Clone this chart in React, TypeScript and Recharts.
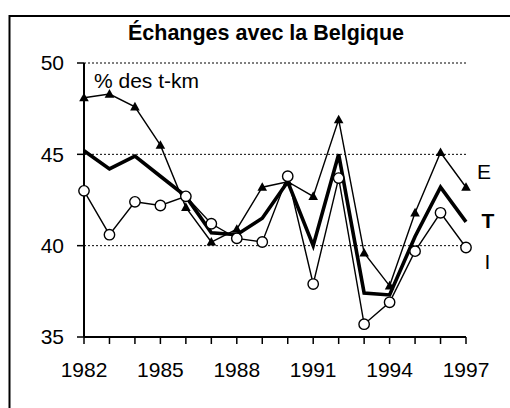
import React from "react";
import { LineChart, Line, XAxis, YAxis, CartesianGrid, LabelList } from "recharts";

const years = [1982, 1983, 1984, 1985, 1986, 1987, 1988, 1989, 1990, 1991, 1992, 1993, 1994, 1995, 1996, 1997];
const labelledYears = [1982, 1985, 1988, 1991, 1994, 1997];
const seriesE = [48.1, 48.3, 47.6, 45.5, 42.1, 40.2, 40.9, 43.2, 43.5, 42.7, 46.9, 39.6, 37.8, 41.8, 45.1, 43.2];
const seriesT = [45.2, 44.2, 44.9, 43.8, 42.7, 40.7, 40.6, 41.5, 43.5, 40.0, 45.0, 37.4, 37.3, 40.5, 43.2, 41.3];
const seriesI = [43.0, 40.6, 42.4, 42.2, 42.7, 41.2, 40.4, 40.2, 43.8, 37.9, 43.7, 35.7, 36.9, 39.7, 41.8, 39.9];
const yTicks = [35, 40, 45, 50];
const title = "Échanges avec la Belgique";
const unitLabel = "% des t-km";

const data = years.map((y, i) => ({ year: y, E: seriesE[i], T: seriesT[i], I: seriesI[i] }));

const FONT = "Arial, 'Liberation Sans', sans-serif";
const FS = 21;

const Triangle = (props: any) => {
  const { cx, cy } = props;
  if (cx == null || cy == null) return null;
  return <polygon points={`${cx - 4.8},${cy + 3.6} ${cx + 4.8},${cy + 3.6} ${cx},${cy - 5}`} fill="#000" stroke="none" />;
};

const Circle = (props: any) => {
  const { cx, cy } = props;
  if (cx == null || cy == null) return null;
  return <circle cx={cx} cy={cy} r={5.2} fill="#fff" stroke="#000" strokeWidth={1.4} />;
};

const endLabel = (text: string, dx: number, dy: number, bold: boolean) => (props: any) => {
  const { x, y, index } = props;
  if (index !== years.length - 1) return null;
  return (
    <text x={x + dx} y={y + dy} textAnchor="middle" dominantBaseline="central" fontFamily={FONT} fontSize={FS} fontWeight={bold ? "bold" : "normal"} fill="#000">
      {text}
    </text>
  );
};

export default function App() {
  return (
    <div style={{ position: "absolute", left: 0, top: 0, width: 510, height: 408, overflow: "hidden", background: "#fff" }}>
      <svg width={510} height={408} style={{ position: "absolute", left: 0, top: 0 }}>
        <rect x={9.5} y={16} width={600} height={500} fill="#fff" stroke="#000" strokeWidth={2} />
        <text x={266} y={40} textAnchor="middle" fontFamily={FONT} fontSize={21.5} fontWeight="bold" fill="#000">
          {title}
        </text>
        <text x={94} y={88} fontFamily={FONT} fontSize={FS} fill="#000">
          {unitLabel}
        </text>
      </svg>
      <div style={{ position: "absolute", left: 0, top: 0 }}>
        <LineChart width={510} height={408} data={data} margin={{ top: 63, right: 44, bottom: 31, left: 0 }}>
          <CartesianGrid horizontal={true} vertical={false} stroke="#000" strokeDasharray="2 2" strokeWidth={1} />
          <XAxis
            dataKey="year"
            type="category"
            scale="point"
            padding={{ left: 0, right: 0 }}
            interval={0}
            height={40}
            tickSize={7}
            tickMargin={18}
            axisLine={{ stroke: "#000", strokeWidth: 2 }}
            tickLine={{ stroke: "#000", strokeWidth: 1.5 }}
            tick={{ fill: "#000", fontFamily: FONT, fontSize: FS }}
            tickFormatter={(v: any) => (labelledYears.includes(Number(v)) ? String(v) : "")}
          />
          <YAxis
            domain={[35, 50]}
            ticks={yTicks}
            type="number"
            width={84}
            tickSize={7}
            tickMargin={13}
            allowDataOverflow
            axisLine={{ stroke: "#000", strokeWidth: 2 }}
            tickLine={{ stroke: "#000", strokeWidth: 1.5 }}
            tick={{ fill: "#000", fontFamily: FONT, fontSize: FS }}
          />
          <Line dataKey="E" stroke="#000" strokeWidth={1.4} dot={<Triangle />} activeDot={false} isAnimationActive={false}>
            <LabelList dataKey="E" content={endLabel("E", 18, -16, false)} />
          </Line>
          <Line dataKey="T" stroke="#000" strokeWidth={3.6} dot={false} activeDot={false} isAnimationActive={false} strokeLinejoin="miter">
            <LabelList dataKey="T" content={endLabel("T", 22, -1, true)} />
          </Line>
          <Line dataKey="I" stroke="#000" strokeWidth={1.4} dot={<Circle />} activeDot={false} isAnimationActive={false}>
            <LabelList dataKey="I" content={endLabel("I", 21.5, 14, false)} />
          </Line>
        </LineChart>
      </div>
    </div>
  );
}
